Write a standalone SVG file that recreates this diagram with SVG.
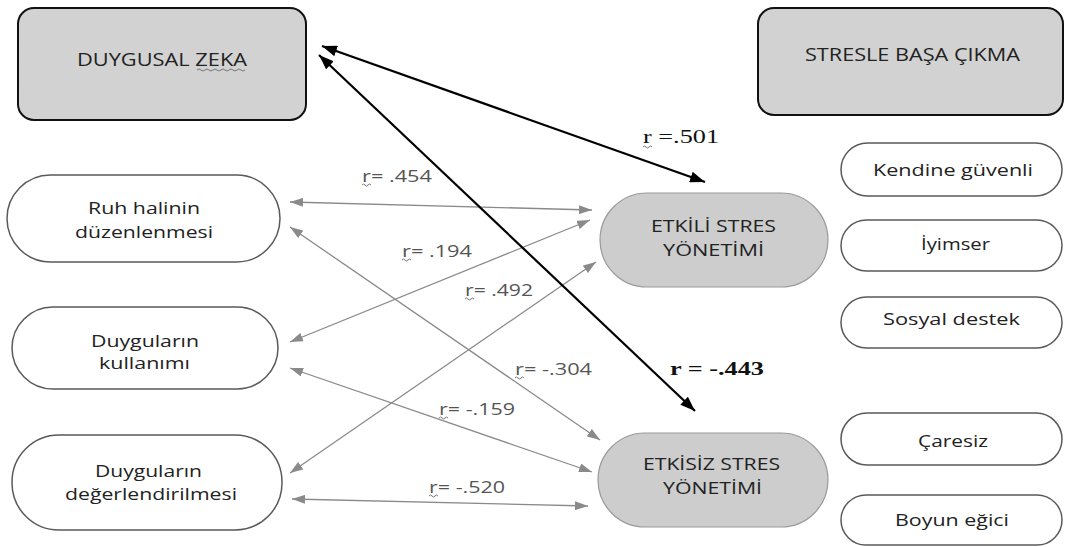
<svg xmlns="http://www.w3.org/2000/svg" width="1066" height="547" viewBox="0 0 1066 547">
<defs>
<marker id="ab" markerUnits="userSpaceOnUse" markerWidth="15" markerHeight="11" refX="15" refY="5.5" orient="auto-start-reverse"><path d="M0,0 L15,5.5 L0,11 z" fill="#000"/></marker>
<marker id="ag" markerUnits="userSpaceOnUse" markerWidth="13" markerHeight="9" refX="13" refY="4.5" orient="auto-start-reverse"><path d="M0,0 L13,4.5 L0,9 z" fill="#8a8a8a"/></marker>
</defs>
<style>
.t{font-family:"Open Sans","Liberation Sans",sans-serif;font-size:17px;fill:#222;text-anchor:start}
.tb{font-family:"Open Sans","Liberation Sans",sans-serif;font-size:18px;fill:#222}
.lb{font-family:"Open Sans","Liberation Sans",sans-serif;font-size:16px;fill:#555}
.sr{font-family:"Liberation Serif","Times New Roman",serif;font-size:19px;fill:#111}
.gbox{fill:#d2d2d2;stroke:#111;stroke-width:2}
.gnode{fill:#cdcdcd;stroke:#9a9a9a;stroke-width:1.2}
.wnode{fill:#fff;stroke:#5a5a5a;stroke-width:1.5}
.cg{stroke:#8a8a8a;stroke-width:1.3;fill:none;marker-start:url(#ag);marker-end:url(#ag)}
.cb{stroke:#000;stroke-width:2.2;fill:none;marker-start:url(#ab);marker-end:url(#ab)}
.sq{fill:none;stroke:#777;stroke-width:1}
</style>
<g id="node-duygusal-zeka">
<rect class="gbox" x="18" y="8" width="288" height="112" rx="16"/>
<text class="tb" x="77" y="66" textLength="170" lengthAdjust="spacingAndGlyphs">DUYGUSAL ZEKA</text>
<path class="sq" d="M197,70 q2,-2 4,0 t4,0 t4,0 t4,0 t4,0 t4,0 t4,0 t4,0 t4,0 t4,0 t4,0 t4,0"/>
</g>
<g id="node-stresle-basa-cikma">
<rect class="gbox" x="758" y="8" width="305" height="107" rx="16"/>
<text class="tb" x="805" y="61" textLength="215" lengthAdjust="spacingAndGlyphs">STRESLE BAŞA ÇIKMA</text>
</g>
<g id="node-ruh-halinin">
<rect class="wnode" x="7" y="175" width="273" height="87" rx="43.5"/>
<text class="t" x="88" y="214" textLength="112" lengthAdjust="spacingAndGlyphs">Ruh halinin</text>
<text class="t" x="75" y="238" textLength="138" lengthAdjust="spacingAndGlyphs">düzenlenmesi</text>
</g>
<g id="node-duygularin-kullanimi">
<rect class="wnode" x="12" y="307" width="266" height="82" rx="41"/>
<text class="t" x="91" y="347" textLength="108" lengthAdjust="spacingAndGlyphs">Duyguların</text>
<text class="t" x="99" y="369" textLength="91" lengthAdjust="spacingAndGlyphs">kullanımı</text>
</g>
<g id="node-duygularin-degerlendirilmesi">
<rect class="wnode" x="12" y="435" width="270" height="95" rx="47"/>
<text class="t" x="95" y="477" textLength="107" lengthAdjust="spacingAndGlyphs">Duyguların</text>
<text class="t" x="65" y="500" textLength="172" lengthAdjust="spacingAndGlyphs">değerlendirilmesi</text>
</g>
<g id="node-etkili-stres">
<rect class="gnode" x="600" y="193" width="228" height="94" rx="47"/>
<text class="t" x="651" y="232" textLength="125" lengthAdjust="spacingAndGlyphs">ETKİLİ STRES</text>
<text class="t" x="663" y="256" textLength="101" lengthAdjust="spacingAndGlyphs">YÖNETİMİ</text>
</g>
<g id="node-etkisiz-stres">
<rect class="gnode" x="598" y="433" width="230" height="94" rx="47"/>
<text class="t" x="643" y="470" textLength="137" lengthAdjust="spacingAndGlyphs">ETKİSİZ STRES</text>
<text class="t" x="663" y="494" textLength="99" lengthAdjust="spacingAndGlyphs">YÖNETİMİ</text>
</g>
<g id="node-kendine-guvenli">
<rect class="wnode" x="841" y="143" width="221" height="53" rx="26.5"/>
<text class="t" x="873" y="176" textLength="160" lengthAdjust="spacingAndGlyphs">Kendine güvenli</text>
</g>
<g id="node-iyimser">
<rect class="wnode" x="841" y="220" width="221" height="51" rx="25.5"/>
<text class="t" x="921" y="250" textLength="69" lengthAdjust="spacingAndGlyphs">İyimser</text>
</g>
<g id="node-sosyal-destek">
<rect class="wnode" x="841" y="297" width="221" height="51" rx="25.5"/>
<text class="t" x="883" y="325" textLength="137" lengthAdjust="spacingAndGlyphs">Sosyal destek</text>
</g>
<g id="node-caresiz">
<rect class="wnode" x="841" y="413" width="221" height="52" rx="26"/>
<text class="t" x="918" y="447" textLength="70" lengthAdjust="spacingAndGlyphs">Çaresiz</text>
</g>
<g id="node-boyun-egici">
<rect class="wnode" x="841" y="495" width="221" height="50" rx="25"/>
<text class="t" x="895" y="526" textLength="114" lengthAdjust="spacingAndGlyphs">Boyun eğici</text>
</g>
<g id="connectors">
<line class="cg" x1="290" y1="202" x2="592" y2="210"/>
<line class="cg" x1="290" y1="227" x2="600" y2="440"/>
<line class="cg" x1="590" y1="220" x2="290" y2="342"/>
<line class="cg" x1="596" y1="262" x2="290" y2="473"/>
<line class="cg" x1="290" y1="368" x2="592" y2="472"/>
<line class="cg" x1="292" y1="499" x2="588" y2="506"/>
<line class="cb" x1="322" y1="46" x2="705" y2="182"/>
<line class="cb" x1="319" y1="55" x2="695" y2="411"/>
</g>
<g id="labels">
<text class="lb" x="362" y="182" textLength="70" lengthAdjust="spacingAndGlyphs">r= .454</text>
<text class="lb" x="402" y="257" textLength="70" lengthAdjust="spacingAndGlyphs">r= .194</text>
<text class="lb" x="465" y="296" textLength="68" lengthAdjust="spacingAndGlyphs">r= .492</text>
<text class="lb" x="515" y="375" textLength="77" lengthAdjust="spacingAndGlyphs">r= -.304</text>
<text class="lb" x="439" y="415" textLength="76" lengthAdjust="spacingAndGlyphs">r= -.159</text>
<text class="lb" x="429" y="493" textLength="76" lengthAdjust="spacingAndGlyphs">r= -.520</text>
<text class="sr" x="643" y="143" textLength="76" lengthAdjust="spacingAndGlyphs">r =.501</text>
<text class="sr" x="670" y="375" font-weight="bold" textLength="94" lengthAdjust="spacingAndGlyphs">r = -.443</text>
<path class="sq" d="M362,185 q1.5,-2 3,0 t3,0 t3,0"/>
<path class="sq" d="M402,260 q1.5,-2 3,0 t3,0 t3,0"/>
<path class="sq" d="M465,299 q1.5,-2 3,0 t3,0 t3,0"/>
<path class="sq" d="M515,378 q1.5,-2 3,0 t3,0 t3,0"/>
<path class="sq" d="M439,418 q1.5,-2 3,0 t3,0 t3,0"/>
<path class="sq" d="M429,496 q1.5,-2 3,0 t3,0 t3,0"/>
<path class="sq" d="M643,147 q1.5,-2 3,0 t3,0 t3,0"/>
</g>
</svg>
